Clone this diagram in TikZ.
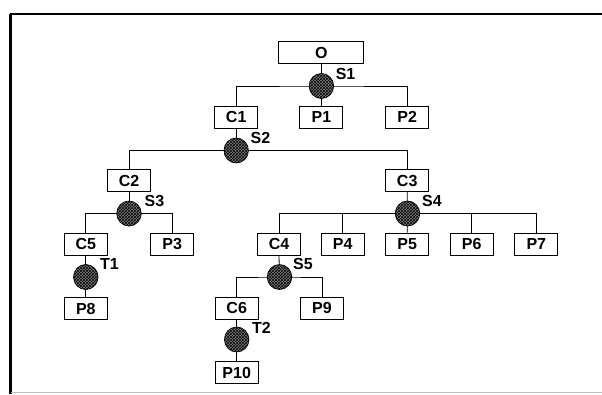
\documentclass[tikz,border=0pt]{standalone}
\usepackage{fontspec}
\setmainfont{Liberation Sans}
\newfontfamily\lblfont{Liberation Sans Bold}
\usetikzlibrary{shapes.geometric,patterns,backgrounds}
\begin{document}
\begin{tikzpicture}[x=1pt,y=-1pt,
  box/.style={draw,line width=0.9pt,minimum width=43pt,minimum height=22pt,inner sep=0pt,
    font=\lblfont\fontsize{16}{17}\selectfont},
  hub/.style={ellipse,draw,line width=0.7pt,minimum width=24.5pt,minimum height=25pt,inner sep=0pt,
    preaction={fill=black!50},pattern=crosshatch,pattern color=black},
  lbl/.style={inner sep=0pt,font=\lblfont\fontsize{16}{17}\selectfont},
  link/.style={line width=0.8pt}]
\useasboundingbox (0,0) rectangle (602,394);
% frame
\draw[line width=2.6pt] (10.5,394) -- (10.5,13.5);
\draw[line width=2pt] (9.5,13.5) -- (602,13.5);
\draw[black!25,line width=0.6pt] (10.5,392) -- (602,392);
% boxes
\node[box,minimum width=85pt] (O) at (321.4,52.5) {O};
\node[box] (C1) at (236.2,117) {C1};
\node[box] (P1) at (321.4,117) {P1};
\node[box] (P2) at (407.2,117) {P2};
\node[box] (C2) at (129,180.5) {C2};
\node[box] (C3) at (407.2,180.5) {C3};
\node[box] (C5) at (85.8,244) {C5};
\node[box] (P3) at (172.2,244) {P3};
\node[box] (C4) at (279,244) {C4};
\node[box] (P4) at (342.7,244) {P4};
\node[box] (P5) at (407.2,244) {P5};
\node[box] (P6) at (471.7,244) {P6};
\node[box] (P7) at (536.3,244) {P7};
\node[box] (P8) at (85.8,308.5) {P8};
\node[box] (C6) at (236.7,308) {C6};
\node[box] (P9) at (322,308) {P9};
\node[box] (P10) at (236.7,372.5) {P10};
% hubs
\node[hub] (S1) at (321.4,86) {};
\node[hub] (S2) at (236.2,150.5) {};
\node[hub] (S3) at (129,213.5) {};
\node[hub] (S4) at (407.5,213.5) {};
\node[hub] (T1) at (85.8,277) {};
\node[hub] (S5) at (279.5,277) {};
\node[hub] (T2) at (236.7,339.5) {};
% labels
\node[lbl] (lS1) at (345.6,74) {S1};
\node[lbl] (lS2) at (260.4,138) {S2};
\node[lbl] (lS3) at (154.4,201) {S3};
\node[lbl] (lS4) at (432,201) {S4};
\node[lbl] (lT1) at (109.4,264) {T1};
\node[lbl] (lS5) at (303,264) {S5};
\node[lbl] (lT2) at (261.5,328) {T2};
% connectors
\begin{scope}[on background layer]
\draw[link] (O.south) -- (S1.center) -- (P1.north);
\draw[link] (C1.north) |- (S1.center) -| (P2.north);
\draw[link] (C1.south) -- (S2.center);
\draw[link] (C2.north) |- (S2.center) -| (C3.north);
\draw[link] (C2.south) -- (S3.center);
\draw[link] (C5.north) |- (S3.center) -| (P3.north);
\draw[link] (C3.south) -- (S4.center) -- (P5.north);
\draw[link] (C4.north) |- (S4.center) -| (P7.north);
\draw[link] (P4.north) -- (P4.north |- S4.center);
\draw[link] (P6.north) -- (P6.north |- S4.center);
\draw[link] (C5.south) -- (T1.center) -- (P8.north);
\draw[link] (C4.south) -- (S5.center);
\draw[link] (C6.north) |- (S5.center) -| (P9.north);
\draw[link] (C6.south) -- (T2.center) -- (P10.north);
\end{scope}
\end{tikzpicture}
\end{document}
